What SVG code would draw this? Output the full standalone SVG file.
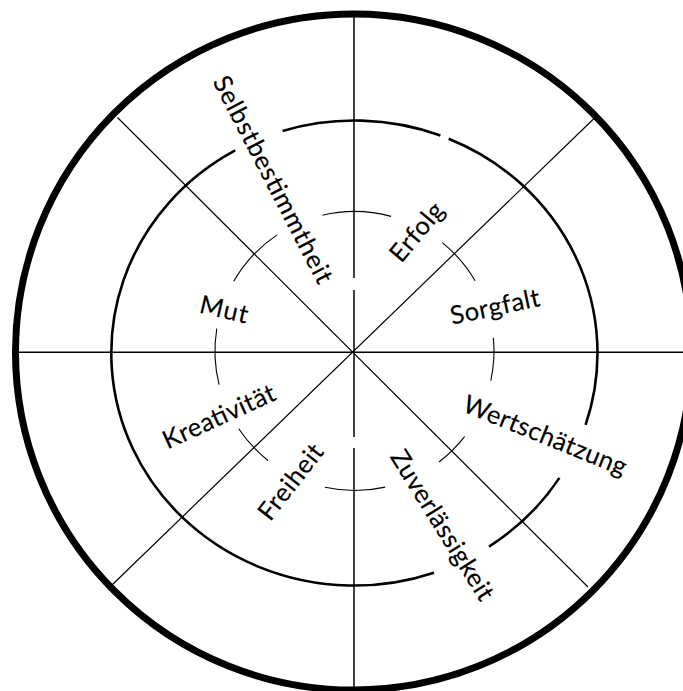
<svg xmlns="http://www.w3.org/2000/svg" width="683" height="691" viewBox="0 0 683 691">
<style>
.bg{fill:#fff}
.outer{fill:none;stroke:#000;stroke-width:7}
.mid{fill:none;stroke:#000;stroke-width:2.6}
.inner{fill:none;stroke:#000;stroke-width:1.1}
.axis{stroke:#000;stroke-width:1.5;fill:none}
.diag{stroke:#000;stroke-width:1.2;fill:none}
.lbl{font-family:Lato,"Liberation Sans",sans-serif;font-size:25.5px;fill:#000;stroke:#000;stroke-width:0.15;text-anchor:middle}
</style>
<rect class="bg" x="0" y="0" width="683" height="691"/>
<g id="connectors">
<line class="axis" x1="354" y1="17" x2="354" y2="278"/>
<line class="axis" x1="354" y1="290" x2="354" y2="437"/>
<line class="axis" x1="354" y1="448" x2="354" y2="688"/>
<line class="axis" x1="18" y1="352.3" x2="683" y2="352.3"/>
<line class="diag" x1="117.5" y1="117.5" x2="588" y2="587"/>
<line class="diag" x1="593.5" y1="119" x2="112.5" y2="584.5"/>
</g>
<g id="rings">
<circle class="outer" cx="353.5" cy="352" r="338"/>
<path class="mid" d="M282.6,130.9 A243,232.5 0 0 1 440.4,135.5"/>
<path class="mid" d="M448.7,138.7 A243,232.5 0 0 1 585.6,424.8"/>
<path class="mid" d="M559.4,477.9 A243,232.5 0 0 1 489.0,546.6"/>
<path class="mid" d="M434.0,572.7 A243,232.5 0 0 1 235.2,150.4"/>
<path class="inner" d="M322.4,215.2 A139.5,139.5 0 0 1 391.1,216.4"/>
<path class="inner" d="M442.3,242.6 A139.5,139.5 0 0 1 475.1,280.8"/>
<path class="inner" d="M493.4,337.9 A139.5,139.5 0 0 1 490.8,380.7"/>
<path class="inner" d="M464.6,436.7 A139.5,139.5 0 0 1 439.0,462.0"/>
<path class="inner" d="M385.2,487.1 A139.5,139.5 0 0 1 325.0,487.3"/>
<path class="inner" d="M268.0,460.5 A139.5,139.5 0 0 1 238.7,428.8"/>
<path class="inner" d="M219.1,384.7 A139.5,139.5 0 0 1 216.8,328.5"/>
<path class="inner" d="M233.7,281.3 A139.5,139.5 0 0 1 277.1,234.9"/>
</g>
<g id="selbstbestimmtheit"><text class="lbl" transform="translate(265.3,183.5) rotate(62.5)" textLength="230">Selbstbestimmtheit</text></g>
<g id="erfolg"><text class="lbl" transform="translate(423.4,237.5) rotate(-50)" textLength="69">Erfolg</text></g>
<g id="sorgfalt"><text class="lbl" transform="translate(496.7,315.3) rotate(-12)" textLength="91">Sorgfalt</text></g>
<g id="mut"><text class="lbl" transform="translate(222,318) rotate(13)" textLength="49">Mut</text></g>
<g id="kreativitaet"><text class="lbl" transform="translate(222.5,424.5) rotate(-24.5)" textLength="121">Kreativität</text></g>
<g id="wertschaetzung"><text class="lbl" transform="translate(542,443.5) rotate(22)" textLength="174">Wertschätzung</text></g>
<g id="zuverlaessigkeit"><text class="lbl" transform="translate(435,529.8) rotate(58)" textLength="172">Zuverlässigkeit</text></g>
<g id="freiheit"><text class="lbl" transform="translate(297.6,487.3) rotate(-52)" textLength="89">Freiheit</text></g>
</svg>
